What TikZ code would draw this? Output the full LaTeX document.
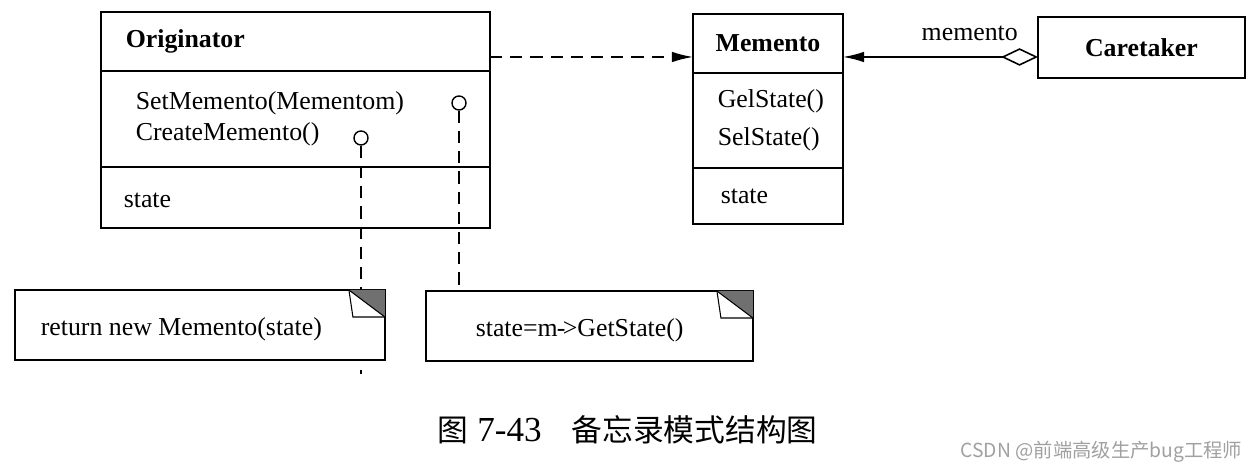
\documentclass[tikz,border=0pt]{standalone}
\usepackage{fontspec}
\setmainfont{Liberation Serif}
\newfontfamily\cjk{Noto Sans CJK SC}
\usetikzlibrary{arrows.meta,calc,positioning}
\definecolor{foldgray}{HTML}{707070}
\definecolor{wmgray}{HTML}{A0A0A0}
\newcommand{\txt}{\fontsize{14.7}{18}\selectfont}

\begin{document}
\begin{tikzpicture}[x=0.02cm, y=-0.02cm, line width=0.9pt,
	box/.style={draw, inner sep=0pt, outer sep=0pt, anchor=north west},
	lbl/.style={inner sep=0pt, font=\txt},
	ttl/.style={inner sep=0pt, font=\txt\bfseries},
	knob/.style={circle, draw, line width=0.8pt, inner sep=0pt, minimum size=0.28cm},
	dsh/.style={dash pattern=on 7pt off 4.5pt}]
	\useasboundingbox (0,0) rectangle (1258,472);
	% Originator
	\node[box, minimum width=7.78cm, minimum height=1.18cm] (origT) at (101,12) {};
	\node[box, minimum width=7.78cm, minimum height=1.92cm] (origM) at (origT.south west) {};
	\node[box, minimum width=7.78cm, minimum height=1.22cm] (origA) at (origM.south west) {};
	\node[ttl, right=0.48cm of origT.west] (origName) {Originator};
	\node[lbl, align=left, right=0.68cm of origM.west] (origOps) {SetMemento(Mementom)\\CreateMemento()};
	\node[lbl, right=0.44cm of origA.west, yshift=-1.5pt] (origState) {state};
	% Memento
	\node[box, minimum width=3cm, minimum height=1.18cm] (memT) at (693,14) {};
	\node[box, minimum width=3cm, minimum height=1.9cm] (memM) at (memT.south west) {};
	\node[box, minimum width=3cm, minimum height=1.12cm] (memA) at (memM.south west) {};
	\node[ttl] (memName) at (memT.center) {Memento};
	\node[lbl, align=left, right=0.48cm of memM.west, font=\fontsize{14.7}{21.5}\selectfont] (memOps) {GelState()\\SelState()};
	\node[lbl, right=0.54cm of memA.west] (memState) {state};
	% Caretaker
	\node[box, minimum width=4.14cm, minimum height=1.22cm] (carT) at (1038,17) {};
	\node[ttl] (carName) at (carT.center) {Caretaker};
	% notes
	\node[box, minimum width=7.4cm, minimum height=1.4cm] (note1) at (15,290) {};
	\node[box, minimum width=6.54cm, minimum height=1.4cm] (note2) at (426,291) {};
	\node[lbl, right=0.5cm of note1.west, yshift=-2.3pt] (note1txt) {return new Memento(state)};
	\node[lbl, right=0.98cm of note2.west, yshift=-2.3pt] (note2txt) {state=m{\kern-0.5pt}-{\kern-1.5pt}>GetState()};
	\foreach \n in {note1,note2} {
		\fill[foldgray] (\n.north east) -- ++(-36,0) -- ($(\n.north east)+(0,27)$) -- cycle;
		\draw[line width=0.6pt] ($(\n.north east)+(-36,0)$) -- ($(\n.north east)+(-32,27)$) -- ($(\n.north east)+(0,27)$);
		\draw[line width=0.6pt] ($(\n.north east)+(-36,0)$) -- ($(\n.north east)+(0,27)$);
	}
	% dependency and association
	\coordinate (d0) at ($(origT.south east)+(0,-14)$);
	\draw[dsh, -{Latex[length=12pt,width=6pt]}] (d0) -- (d0 -| memT.west);
	\draw[{Diamond[open,length=21pt,width=10pt]}-{Latex[length=12pt,width=6pt]}] (carT.west |- d0) -- (d0 -| memT.east)
		node[lbl, pos=0.35, above=0.3cm] (assocLbl) {memento};
	% note links
	\node[knob] (c1) at (361,138) {};
	\node[knob] (c2) at (459,103) {};
	\draw[dsh] (c1) -- (c1 |- note1.north);
	\draw[dsh] (c2) -- (c2 |- note2.north);
	\coordinate (dot) at (c1 |- note1.south);
	\draw[line width=0.7pt] (dot) ++(0,10) -- ++(0,4);
	% caption
	\node[anchor=west, inner sep=0pt] (cap) at (437,430) {{\cjk\fontsize{17.5}{20}\selectfont 图}\hspace{5pt}{\fontsize{20}{22}\selectfont 7-43}\hspace{17pt}{\cjk\fontsize{17.5}{20}\selectfont 备忘录模式结构图}};
	\node[anchor=east, inner sep=0pt, text=wmgray, font=\cjk\fontsize{11}{13}\selectfont] (wm) at (1243,452) {CSDN @前端高级生产bug工程师};
\end{tikzpicture}
\end{document}
